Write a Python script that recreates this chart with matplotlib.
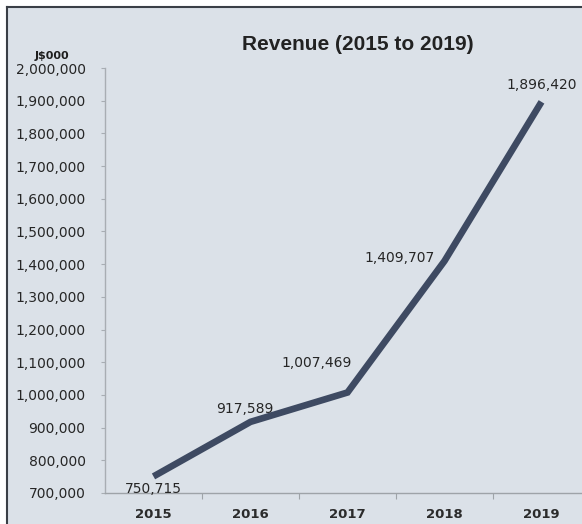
import matplotlib
matplotlib.use("Agg")
import matplotlib.pyplot as plt
from matplotlib.patches import Rectangle
from matplotlib.lines import Line2D
from matplotlib.ticker import FuncFormatter, MultipleLocator, FixedLocator

years = ["2015", "2016", "2017", "2018", "2019"]
revenue = [750715, 917589, 1007469, 1409707, 1896420]
# label offsets (points) for each value label
label_offsets = [(0, -9), (-4, 9), (-22, 21), (-32, 2), (0, 12)]

W, H = 582, 524
fig = plt.figure(figsize=(W / 100, H / 100), dpi=100, facecolor="white")

bg = "#dbe1e8"
fig.patches.append(Rectangle((7 / W, 0), 1, 517 / H, transform=fig.transFigure,
                             facecolor=bg, edgecolor="none", zorder=0))
fig.lines.append(Line2D([7 / W, 7 / W], [0, 517 / H], transform=fig.transFigure,
                        color="#3a3f46", lw=1.5, zorder=1))
fig.lines.append(Line2D([7 / W, 1], [517 / H, 517 / H], transform=fig.transFigure,
                        color="#3a3f46", lw=1.5, zorder=1))

ax = fig.add_axes([105 / W, 31 / H, 485 / W, 425 / H])
ax.set_zorder(5)
ax.set_facecolor("none")

x = list(range(len(years)))
ax.plot(x, revenue, color="#3e4a62", lw=4.8, solid_capstyle="butt",
        solid_joinstyle="miter", zorder=3, clip_on=False)

for xi, v, (dx, dy) in zip(x, revenue, label_offsets):
    ax.annotate(f"{v:,}", (xi, v), xytext=(dx, dy), textcoords="offset points",
                ha="center", va="center", fontsize=10, color="#262626",
                family="DejaVu Sans")

ax.set_xlim(-0.5, len(years) - 0.5)
ax.set_ylim(700000, 2000000)
ax.yaxis.set_major_locator(MultipleLocator(100000))
ax.yaxis.set_major_formatter(FuncFormatter(lambda v, p: f"{int(v):,}"))
ax.set_xticks(x)
ax.set_xticklabels(years)
ax.xaxis.set_minor_locator(FixedLocator([i + 0.5 for i in x[:-1]]))

for s in ("top", "right"):
    ax.spines[s].set_visible(False)
ax.spines["left"].set_color("#a8adb3")
ax.spines["bottom"].set_color("#9ea3a8")
ax.spines["left"].set_linewidth(1.0)
ax.spines["bottom"].set_linewidth(1.0)

ax.tick_params(axis="y", length=3, width=0.8, color="#a8adb3", pad=11,
               labelsize=10, labelcolor="#262626")
ax.tick_params(axis="x", which="major", length=0, pad=11, labelsize=9.5,
               labelcolor="#2b2b2b")
ax.tick_params(axis="x", which="minor", length=4, width=0.8, color="#9ea3a8")
for lab in ax.get_xticklabels():
    lab.set_fontweight("bold")

fig.text(358 / W, 1 - 45 / H, "Revenue (2015 to 2019)", ha="center", va="center",
         fontsize=15, fontweight="bold", family="Liberation Sans", color="#222222")
fig.text(52 / W, 1 - 56 / H, "J$000", ha="center", va="center",
         fontsize=8, fontweight="bold", color="#1e1e1e")

fig.savefig("out.png", dpi=100, facecolor="white")
